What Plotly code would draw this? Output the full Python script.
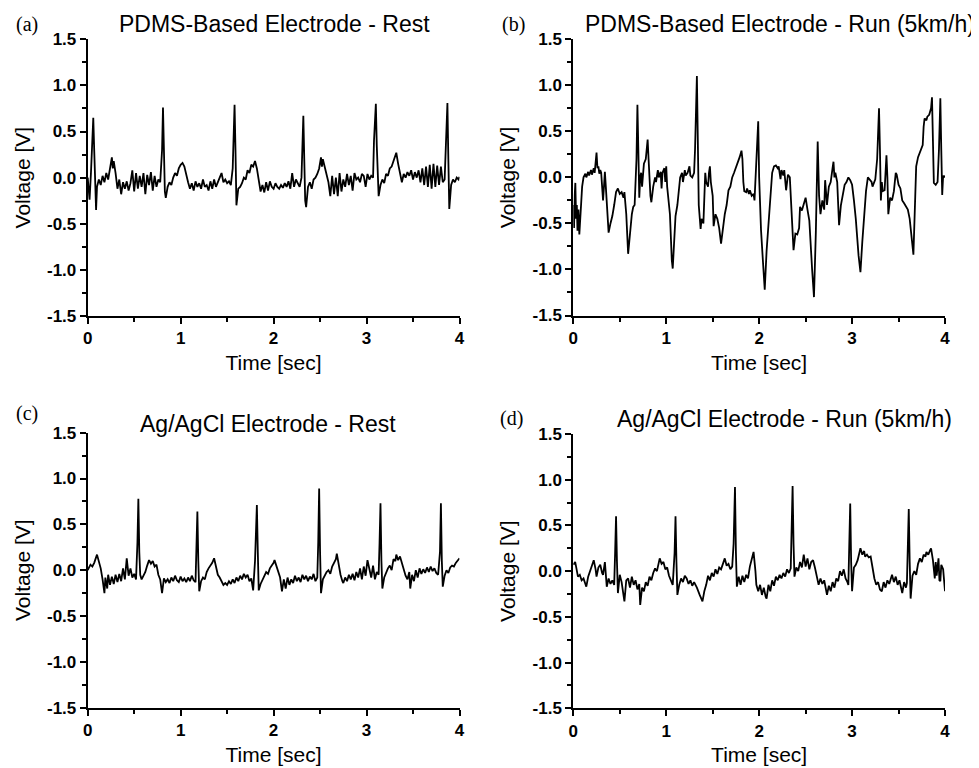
import plotly.graph_objects as go

# ---------------- data ----------------
time_a = [0.00,0.01,0.02,0.035,0.05,0.06,0.07,0.08,0.09,0.10,0.12,0.14,0.16,0.18,0.20,0.22,0.24,0.26,0.27,0.28,
          0.30,0.32,0.34,0.36,0.38,0.40,0.42,0.44,0.46,0.48,0.50,0.52,0.54,0.56,0.58,0.60,0.62,0.64,0.66,0.68,
          0.70,0.72,0.74,0.76,0.78,0.80,0.81,0.82,0.83,0.84,0.86,0.88,0.90,0.92,0.94,0.96,0.98,1.00,1.02,1.04,
          1.06,1.08,1.10,1.12,1.14,1.16,1.18,1.20,1.22,1.24,1.26,1.28,1.30,1.32,1.34,1.36,1.38,1.40,1.42,1.44,
          1.46,1.48,1.50,1.52,1.54,1.56,1.57,1.58,1.59,1.60,1.62,1.64,1.66,1.68,1.70,1.72,1.74,1.76,1.78,1.80,
          1.82,1.84,1.86,1.88,1.90,1.92,1.94,1.96,1.98,2.00,2.02,2.04,2.06,2.08,2.10,2.12,2.14,2.16,2.18,2.20,
          2.22,2.24,2.26,2.28,2.30,2.31,2.32,2.33,2.34,2.35,2.37,2.39,2.41,2.43,2.45,2.47,2.49,2.51,2.52,2.53,
          2.55,2.57,2.59,2.61,2.63,2.65,2.67,2.69,2.71,2.73,2.75,2.77,2.79,2.81,2.83,2.85,2.87,2.89,2.91,2.93,
          2.95,2.97,2.99,3.01,3.03,3.05,3.07,3.08,3.10,3.11,3.12,3.13,3.15,3.17,3.19,3.21,3.23,3.25,3.27,3.29,
          3.31,3.32,3.34,3.36,3.38,3.40,3.42,3.44,3.46,3.48,3.50,3.52,3.54,3.56,3.58,3.60,3.62,3.64,3.66,3.68,
          3.70,3.72,3.74,3.76,3.78,3.80,3.82,3.84,3.85,3.87,3.88,3.89,3.91,3.93,3.95,3.97,3.99,4.00]
volt_a = [0.00,-0.10,-0.24,0.05,0.45,0.65,0.30,-0.20,-0.35,-0.10,-0.02,-0.08,0.02,-0.05,0.05,-0.02,0.08,0.22,0.10,0.18,
          0.05,-0.12,-0.02,-0.18,-0.05,-0.12,-0.04,-0.14,-0.06,0.08,-0.15,0.05,-0.12,0.02,-0.10,0.05,-0.18,0.03,-0.08,0.06,
          -0.14,0.02,-0.10,-0.02,-0.05,0.30,0.76,0.30,-0.15,-0.22,-0.10,-0.05,-0.08,0.00,0.05,0.02,0.10,0.14,0.16,0.12,
          0.02,-0.05,-0.12,-0.06,-0.14,-0.04,-0.10,-0.06,-0.12,-0.02,-0.10,-0.08,-0.14,-0.04,-0.12,-0.02,-0.10,-0.04,0.00,0.05,
          -0.05,-0.02,-0.06,-0.04,-0.08,0.10,0.55,0.79,0.30,-0.30,-0.12,-0.10,-0.06,0.00,-0.02,0.08,0.05,0.14,0.12,0.18,
          0.10,-0.05,-0.15,-0.08,-0.16,-0.05,-0.14,-0.04,-0.10,-0.12,-0.06,-0.10,-0.12,-0.08,-0.11,-0.06,-0.10,-0.04,-0.12,0.05,
          -0.10,-0.02,-0.06,-0.10,0.00,0.40,0.67,0.20,-0.25,-0.32,-0.10,-0.05,-0.12,-0.02,0.00,0.04,0.10,0.22,0.12,0.20,
          0.12,0.02,-0.05,-0.20,0.02,-0.18,0.00,-0.20,0.05,-0.15,-0.02,-0.10,0.04,-0.08,0.02,-0.14,0.05,-0.02,0.00,-0.05,
          0.04,0.02,-0.10,0.04,-0.02,0.02,0.00,0.40,0.80,0.35,-0.10,-0.20,-0.08,-0.02,-0.06,0.04,0.02,0.10,0.12,0.18,
          0.24,0.27,0.15,0.03,-0.05,0.04,0.00,0.06,0.02,0.08,-0.02,0.06,0.00,0.08,-0.05,0.10,-0.08,0.12,-0.10,0.14,
          -0.12,0.15,-0.10,0.13,-0.08,0.12,-0.05,-0.02,0.30,0.81,0.20,-0.34,-0.08,-0.02,-0.05,0.00,-0.02,0.01]

time_b = [0.000,0.008,0.015,0.022,0.030,0.038,0.045,0.055,0.065,0.080,0.095,0.11,0.13,0.14,0.16,0.17,0.19,0.20,0.22,0.23,
          0.25,0.26,0.27,0.28,0.29,0.30,0.31,0.32,0.33,0.34,0.35,0.37,0.38,0.40,0.42,0.44,0.46,0.48,0.50,0.52,
          0.54,0.55,0.57,0.59,0.61,0.63,0.645,0.66,0.68,0.69,0.70,0.71,0.72,0.73,0.74,0.75,0.76,0.78,0.80,0.81,
          0.82,0.83,0.84,0.86,0.88,0.89,0.91,0.92,0.94,0.95,0.96,0.98,0.99,1.00,1.01,1.02,1.04,1.06,1.07,1.08,
          1.10,1.12,1.14,1.15,1.17,1.18,1.20,1.21,1.23,1.25,1.26,1.28,1.30,1.31,1.33,1.34,1.35,1.37,1.38,1.40,
          1.42,1.43,1.45,1.46,1.47,1.48,1.50,1.51,1.53,1.55,1.57,1.59,1.61,1.63,1.65,1.67,1.69,1.71,1.73,1.75,
          1.77,1.79,1.81,1.82,1.83,1.84,1.86,1.87,1.89,1.90,1.92,1.94,1.95,1.97,1.99,2.00,2.01,2.02,2.04,2.06,
          2.08,2.10,2.12,2.14,2.16,2.18,2.20,2.21,2.23,2.24,2.26,2.27,2.29,2.31,2.33,2.35,2.37,2.39,2.41,2.43,
          2.44,2.46,2.48,2.50,2.52,2.54,2.57,2.59,2.61,2.63,2.645,2.66,2.68,2.70,2.71,2.73,2.75,2.77,2.79,2.80,
          2.81,2.82,2.84,2.86,2.88,2.90,2.92,2.94,2.96,2.98,3.00,3.02,3.04,3.07,3.09,3.11,3.13,3.15,3.17,3.19,
          3.21,3.22,3.25,3.27,3.29,3.30,3.31,3.32,3.33,3.35,3.36,3.37,3.38,3.39,3.41,3.43,3.45,3.47,3.48,3.50,
          3.52,3.54,3.56,3.58,3.60,3.62,3.64,3.66,3.68,3.69,3.71,3.72,3.74,3.76,3.77,3.78,3.80,3.81,3.83,3.85,
          3.86,3.87,3.88,3.90,3.92,3.935,3.95,3.96,3.97,3.98,3.99,4.00]
volt_b = [-0.30,-0.55,-0.20,-0.06,-0.45,-0.30,-0.58,-0.35,-0.62,-0.40,-0.10,0.00,0.04,0.00,0.06,0.02,0.08,0.03,0.10,0.05,
          0.27,0.10,0.12,0.04,0.08,0.05,-0.10,-0.25,-0.10,0.06,-0.10,-0.45,-0.60,-0.50,-0.42,-0.30,-0.16,-0.12,-0.18,-0.16,
          -0.22,-0.16,-0.40,-0.83,-0.60,-0.40,-0.32,-0.30,0.20,0.79,0.30,-0.22,0.00,0.05,-0.10,0.05,0.15,0.20,0.41,0.20,
          -0.05,-0.20,-0.27,-0.10,0.00,-0.05,0.08,0.00,0.06,-0.12,0.05,0.10,-0.05,0.12,-0.10,-0.18,-0.40,-0.90,-0.99,-0.80,
          -0.42,-0.30,-0.10,0.00,0.05,-0.05,0.08,0.02,0.05,0.12,0.02,0.00,0.05,0.30,1.10,0.40,-0.30,-0.56,-0.45,-0.50,
          0.05,-0.05,-0.10,0.05,0.12,-0.05,-0.20,-0.53,-0.40,-0.45,-0.55,-0.72,-0.55,-0.40,-0.30,-0.14,-0.10,0.00,0.05,0.10,
          0.15,0.22,0.29,0.20,-0.05,-0.15,-0.16,-0.12,-0.18,-0.14,-0.20,-0.18,-0.25,0.20,0.61,0.00,-0.37,-0.57,-0.90,-1.22,
          -0.80,-0.50,-0.20,0.05,0.12,0.13,0.10,0.12,-0.02,0.08,0.02,0.08,-0.14,0.03,0.00,-0.40,-0.79,-0.61,-0.62,-0.55,
          -0.32,-0.36,-0.30,-0.22,-0.35,-0.47,-1.00,-1.30,-0.60,0.39,-0.20,-0.40,-0.25,-0.35,-0.03,-0.30,-0.10,-0.05,0.10,0.17,
          0.00,0.05,-0.05,-0.52,-0.30,-0.20,-0.08,-0.05,0.00,-0.03,-0.08,-0.25,-0.45,-0.85,-1.03,-0.70,-0.40,-0.15,0.00,-0.02,
          -0.05,-0.10,-0.02,0.20,0.75,0.30,-0.25,-0.05,-0.15,-0.14,0.05,0.24,0.00,-0.40,-0.22,-0.25,-0.15,0.05,0.03,-0.08,
          -0.12,-0.25,-0.28,-0.32,-0.35,-0.45,-0.65,-0.84,-0.20,0.12,0.22,0.25,0.30,0.35,0.55,0.64,0.62,0.66,0.68,0.75,
          0.87,0.40,-0.06,-0.08,-0.05,0.30,0.86,0.30,-0.19,0.02,0.00,0.02]

time_c = [0.00,0.03,0.05,0.07,0.10,0.12,0.14,0.16,0.18,0.19,0.21,0.22,0.24,0.26,0.28,0.30,0.32,0.34,0.36,0.38,
          0.40,0.42,0.44,0.46,0.48,0.50,0.52,0.535,0.545,0.555,0.565,0.58,0.60,0.62,0.64,0.66,0.68,0.70,0.72,0.74,
          0.76,0.78,0.80,0.82,0.84,0.86,0.88,0.90,0.92,0.94,0.96,0.98,1.00,1.02,1.04,1.06,1.08,1.10,1.12,1.14,
          1.16,1.17,1.18,1.19,1.20,1.22,1.24,1.26,1.28,1.30,1.32,1.34,1.36,1.38,1.40,1.42,1.44,1.46,1.48,1.50,
          1.52,1.54,1.56,1.58,1.60,1.62,1.64,1.66,1.68,1.70,1.72,1.74,1.76,1.78,1.80,1.82,1.83,1.84,1.86,1.88,
          1.90,1.92,1.94,1.96,1.98,2.00,2.01,2.03,2.05,2.07,2.09,2.11,2.13,2.15,2.17,2.19,2.21,2.23,2.25,2.27,
          2.29,2.31,2.33,2.35,2.37,2.39,2.41,2.43,2.45,2.47,2.48,2.49,2.50,2.51,2.53,2.55,2.57,2.59,2.61,2.63,
          2.65,2.67,2.68,2.70,2.72,2.74,2.75,2.77,2.79,2.81,2.83,2.85,2.87,2.89,2.91,2.93,2.95,2.97,2.99,3.01,
          3.03,3.05,3.07,3.09,3.11,3.13,3.14,3.15,3.16,3.17,3.19,3.21,3.23,3.25,3.27,3.29,3.31,3.32,3.34,3.36,
          3.38,3.40,3.42,3.44,3.46,3.47,3.49,3.51,3.53,3.55,3.57,3.59,3.61,3.63,3.65,3.67,3.69,3.71,3.73,3.75,
          3.77,3.79,3.80,3.81,3.82,3.84,3.86,3.88,3.90,3.92,3.94,3.96,3.98,4.00]
volt_c = [0.00,0.06,0.04,0.08,0.17,0.10,0.02,-0.10,-0.25,-0.08,-0.20,-0.05,-0.16,-0.07,-0.15,-0.05,-0.13,-0.04,-0.12,0.02,
          -0.10,0.13,-0.06,0.02,-0.08,-0.04,-0.10,0.30,0.78,0.20,-0.05,-0.10,-0.06,-0.02,0.05,0.11,0.07,0.10,0.04,0.06,
          -0.05,-0.10,-0.25,-0.09,-0.13,-0.10,-0.14,-0.08,-0.12,-0.06,-0.11,-0.13,-0.07,-0.12,-0.09,-0.13,-0.08,-0.12,-0.06,-0.11,
          -0.13,0.20,0.64,0.10,-0.23,-0.12,-0.08,-0.10,-0.02,0.02,0.05,0.08,0.13,0.04,-0.05,-0.08,-0.13,-0.16,-0.14,-0.16,
          -0.12,-0.15,-0.10,-0.14,-0.08,-0.12,-0.06,-0.10,-0.04,-0.08,-0.05,-0.12,-0.09,-0.22,0.10,0.71,0.20,-0.22,-0.15,-0.10,
          -0.06,-0.02,-0.04,0.02,0.05,0.08,0.11,0.05,0.00,-0.08,-0.23,-0.10,-0.20,-0.08,-0.16,-0.10,-0.14,-0.06,-0.12,-0.08,
          -0.13,-0.05,-0.10,-0.06,-0.12,-0.07,-0.10,-0.04,-0.12,-0.08,0.30,0.89,0.20,-0.25,-0.10,-0.06,-0.02,0.00,-0.04,0.04,
          0.08,0.12,0.18,0.06,-0.05,-0.12,-0.14,-0.08,-0.12,-0.05,-0.10,-0.04,-0.11,-0.02,-0.08,0.02,-0.10,0.04,-0.06,0.11,
          0.02,-0.08,0.05,-0.10,-0.02,-0.05,0.30,0.73,0.10,-0.20,-0.08,-0.02,0.02,0.05,0.00,0.12,0.10,0.17,0.11,0.15,
          0.08,0.02,-0.06,-0.10,-0.02,-0.20,-0.05,-0.12,0.00,-0.08,0.02,-0.04,0.01,-0.03,0.03,-0.02,0.04,-0.01,0.02,-0.03,
          -0.05,0.20,0.73,0.10,-0.18,-0.06,0.00,-0.03,0.03,0.05,0.04,0.08,0.10,0.13]

time_d = [0.00,0.02,0.03,0.05,0.07,0.09,0.11,0.13,0.14,0.16,0.18,0.20,0.22,0.24,0.25,0.27,0.29,0.31,0.32,0.34,
          0.36,0.38,0.40,0.42,0.44,0.45,0.46,0.47,0.48,0.50,0.52,0.55,0.57,0.59,0.61,0.63,0.65,0.67,0.69,0.71,
          0.72,0.74,0.76,0.78,0.80,0.82,0.84,0.86,0.88,0.90,0.92,0.93,0.95,0.97,0.99,1.01,1.03,1.05,1.07,1.09,
          1.10,1.11,1.12,1.14,1.16,1.18,1.20,1.22,1.24,1.26,1.28,1.30,1.33,1.36,1.39,1.41,1.43,1.45,1.47,1.49,
          1.51,1.53,1.55,1.57,1.59,1.61,1.63,1.65,1.67,1.69,1.71,1.725,1.74,1.75,1.76,1.78,1.80,1.82,1.84,1.86,
          1.88,1.90,1.92,1.94,1.96,1.97,1.99,2.01,2.03,2.05,2.07,2.08,2.10,2.12,2.14,2.16,2.18,2.20,2.22,2.24,
          2.26,2.28,2.30,2.32,2.34,2.35,2.36,2.37,2.38,2.40,2.42,2.44,2.46,2.48,2.50,2.52,2.54,2.56,2.58,2.60,
          2.62,2.64,2.66,2.68,2.70,2.73,2.75,2.77,2.79,2.81,2.83,2.85,2.87,2.89,2.91,2.93,2.95,2.96,2.97,2.98,
          2.99,3.00,3.02,3.04,3.06,3.08,3.09,3.11,3.13,3.14,3.16,3.18,3.20,3.22,3.24,3.26,3.28,3.30,3.32,3.34,
          3.36,3.38,3.40,3.43,3.45,3.47,3.49,3.51,3.54,3.56,3.58,3.59,3.60,3.61,3.62,3.63,3.65,3.67,3.69,3.71,
          3.73,3.75,3.77,3.79,3.80,3.82,3.84,3.85,3.87,3.89,3.90,3.91,3.93,3.94,3.95,3.96,3.98,4.00]
volt_d = [0.07,0.10,0.05,-0.06,-0.04,-0.10,-0.08,-0.15,-0.17,-0.06,0.00,0.08,0.12,0.02,-0.06,0.04,0.07,-0.02,-0.04,0.10,
          -0.17,-0.08,-0.14,-0.10,-0.15,0.20,0.60,0.10,-0.24,-0.04,-0.12,-0.33,-0.10,-0.08,-0.18,-0.06,-0.15,-0.10,-0.20,-0.14,
          -0.37,-0.18,-0.22,-0.12,-0.16,-0.06,-0.10,-0.02,0.03,0.00,0.10,0.14,0.08,0.10,0.02,0.04,-0.05,-0.10,-0.15,0.20,
          0.60,0.10,-0.26,-0.15,-0.08,-0.12,-0.05,-0.08,-0.14,-0.10,-0.16,-0.12,-0.18,-0.26,-0.33,-0.22,-0.15,-0.05,-0.10,-0.02,
          -0.06,0.02,-0.03,0.04,0.02,0.08,0.14,0.06,0.08,0.02,0.05,0.30,0.92,0.20,-0.17,-0.06,-0.15,-0.05,-0.12,-0.04,
          -0.08,0.05,0.12,0.21,0.00,-0.15,-0.22,-0.15,-0.26,-0.18,-0.28,-0.30,-0.15,-0.22,-0.10,-0.16,-0.06,-0.10,-0.04,-0.08,
          -0.02,-0.06,0.02,-0.02,0.03,0.40,0.93,0.30,-0.06,0.04,0.00,0.10,0.04,0.18,0.05,0.14,0.02,0.10,0.12,0.04,
          -0.05,-0.15,-0.08,-0.14,-0.10,-0.26,-0.16,-0.22,-0.12,-0.18,-0.08,-0.11,0.00,-0.05,0.02,-0.08,-0.12,-0.15,0.30,0.74,
          0.10,-0.22,0.04,0.07,0.12,0.20,0.25,0.18,0.22,0.16,0.18,0.15,0.16,0.04,-0.08,-0.15,-0.12,-0.20,-0.22,-0.12,
          -0.18,-0.10,-0.14,-0.04,-0.12,-0.06,-0.15,-0.10,-0.24,-0.12,-0.18,-0.13,0.30,0.68,0.10,-0.30,-0.05,0.00,-0.04,0.08,
          0.14,0.10,0.18,0.16,0.21,0.18,0.23,0.25,0.12,-0.08,0.10,-0.05,0.14,-0.10,-0.11,0.07,0.02,-0.22]

titles = ["PDMS-Based Electrode - Rest", "PDMS-Based Electrode - Run (5km/h)",
          "Ag/AgCl Electrode - Rest", "Ag/AgCl Electrode - Run (5km/h)"]
panel_labels = ["(a)", "(b)", "(c)", "(d)"]
x_ticks = [0, 1, 2, 3, 4]
y_ticks = [-1.5, -1.0, -0.5, 0.0, 0.5, 1.0, 1.5]
y_tick_text = ["-1.5", "-1.0", "-0.5", "0.0", "0.5", "1.0", "1.5"]
x_title = "Time [sec]"
y_title = "Voltage [V]"

# ---------------- layout geometry (screen px, page has an 8px body margin) ----------------
W, H = 979, 768
OFF = 8
panels = [
    dict(t=time_a, v=volt_a, x0=87.7, x1=459.5, y0=39.3, y1=316.0, tx=274, ty=24, lx=27, ly=24),
    dict(t=time_b, v=volt_b, x0=573.3, x1=945.0, y0=39.3, y1=315.5, tx=780, ty=24, lx=513, ly=24),
    dict(t=time_c, v=volt_c, x0=87.7, x1=459.5, y0=432.7, y1=707.7, tx=268, ty=424, lx=27, ly=413),
    dict(t=time_d, v=volt_d, x0=573.3, x1=945.0, y0=434.0, y1=708.3, tx=784, ty=419, lx=511, ly=418),
]

def px(x):
    return (x - OFF) / W

def py(y):
    return 1 - (y - OFF) / H

fig = go.Figure()
font_main = "Liberation Sans, Arial, sans-serif"
annotations = []
layout_axes = {}
for i, p in enumerate(panels):
    n = "" if i == 0 else str(i + 1)
    fig.add_trace(go.Scatter(x=p["t"], y=p["v"], mode="lines",
                             line=dict(color="black", width=1.8),
                             xaxis="x" + n, yaxis="y" + n, showlegend=False,
                             hoverinfo="skip"))
    common = dict(showline=True, linecolor="black", linewidth=2, mirror=False,
                  showgrid=False, zeroline=False, ticks="outside",
                  tickcolor="black", tickwidth=1.5, ticklen=6,
                  tickfont=dict(family=font_main, size=17, color="black", weight="bold"))
    layout_axes["xaxis" + n] = dict(
        common, domain=[px(p["x0"]), px(p["x1"])], range=[0, 4],
        anchor="y" + n, tickvals=x_ticks, ticktext=[str(v) for v in x_ticks],
        minor=dict(dtick=0.5, tick0=0, ticks="outside", ticklen=4, tickwidth=1.5, tickcolor="black"),
        title=dict(text=x_title, font=dict(family=font_main, size=21, color="black"), standoff=8),
        automargin=False)
    layout_axes["yaxis" + n] = dict(
        common, domain=[py(p["y1"]), py(p["y0"])], range=[-1.5, 1.5],
        anchor="x" + n, tickvals=y_ticks, ticktext=y_tick_text,
        minor=dict(dtick=0.25, tick0=0, ticks="outside", ticklen=4, tickwidth=1.5, tickcolor="black"),
        title=dict(text=y_title, font=dict(family=font_main, size=21, color="black"), standoff=11),
        automargin=False)
    annotations.append(dict(text=titles[i], x=px(p["tx"]), y=py(p["ty"]),
                            xref="paper", yref="paper", xanchor="center", yanchor="middle",
                            showarrow=False, font=dict(family=font_main, size=23, color="black")))
    annotations.append(dict(text=panel_labels[i], x=px(p["lx"]), y=py(p["ly"]),
                            xref="paper", yref="paper", xanchor="center", yanchor="middle",
                            showarrow=False,
                            font=dict(family="Liberation Serif, Times New Roman, serif", size=20, color="black")))

fig.update_layout(width=W, height=H, margin=dict(l=0, r=0, t=0, b=0),
                  paper_bgcolor="white", plot_bgcolor="white",
                  annotations=annotations, **layout_axes)
fig.write_html("out.html")
